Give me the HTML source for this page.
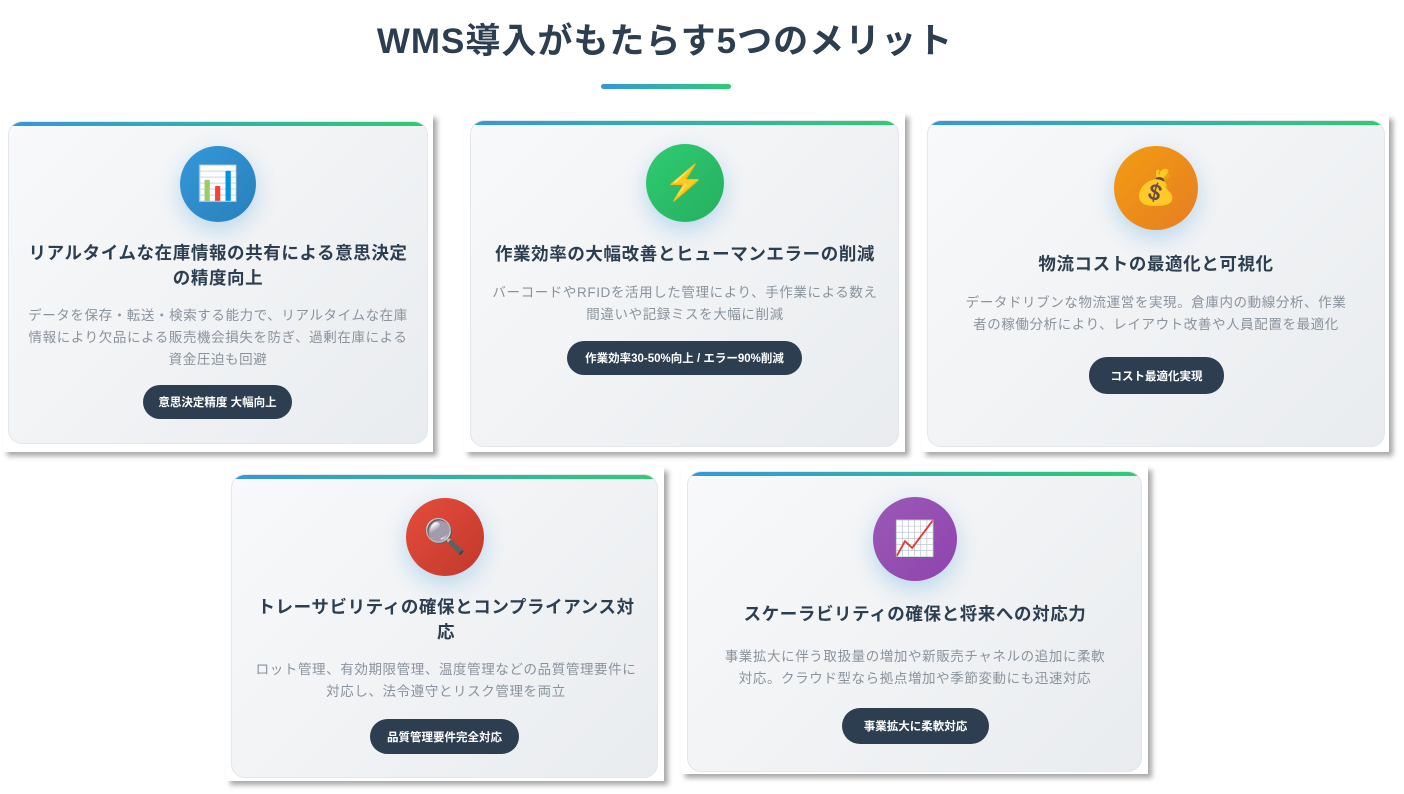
<!DOCTYPE html>
<html><head><meta charset="utf-8"><style>
*{margin:0;padding:0;box-sizing:border-box}
body{width:1404px;height:794px;background:#fff;position:relative;overflow:hidden;font-family:"Liberation Sans","Noto Sans CJK JP",sans-serif}
h1{position:absolute;left:0;width:1330px;top:13px;text-align:center;font-size:35px;font-weight:700;color:#2c3e50;letter-spacing:1px}
.bar{position:absolute;left:601px;top:84px;width:130px;height:5px;border-radius:3px;background:linear-gradient(90deg,#3498db,#2ecc71)}
.outer{position:absolute;background:#fff;box-shadow:4px 4px 5px rgba(0,0,0,.35)}
.inner{position:absolute;border-radius:14px;background:linear-gradient(135deg,#f8f9fa,#e9ecef);overflow:hidden;border:1px solid #e3e6ea}
.inner:before{content:"";position:absolute;left:0;right:0;top:0;height:4px;background:linear-gradient(90deg,#3498db,#2ecc71)}
.c{position:absolute;border-radius:50%;box-shadow:0 8px 22px rgba(52,152,219,.3);display:flex;align-items:center;justify-content:center;font-size:34px}
.t{position:absolute;text-align:center;font-size:17.5px;font-weight:700;color:#2c3e50;line-height:25px;letter-spacing:0.6px}
.d{position:absolute;text-align:center;font-size:13.5px;color:#8a939c;line-height:22px;letter-spacing:0.6px}
.b{position:absolute;background:#2c3e50;color:#fff;font-size:11.5px;font-weight:700;border-radius:18px;display:flex;align-items:center;justify-content:center}
</style></head><body>
<h1>WMS導入がもたらす5つのメリット</h1>
<div class="bar"></div>

<div class="outer" style="left:3px;top:114px;width:430px;height:338px"></div>
<div class="inner" style="left:8px;top:121px;width:420px;height:323px"></div>
<div class="c" style="left:180px;top:146px;width:76px;height:76px;background:linear-gradient(135deg,#3498db,#2980b9)">📊</div>
<div class="t" style="left:22px;top:241px;width:392px">リアルタイムな在庫情報の共有による意思決定の精度向上</div>
<div class="d" style="left:26px;top:305px;width:384px">データを保存・転送・検索する能力で、リアルタイムな在庫情報により欠品による販売機会損失を防ぎ、過剰在庫による資金圧迫も回避</div>
<div class="b" style="left:143px;top:385px;width:149px;height:34px">意思決定精度 大幅向上</div>

<div class="outer" style="left:464px;top:113px;width:441px;height:339px"></div>
<div class="inner" style="left:470px;top:120px;width:429px;height:327px"></div>
<div class="c" style="left:646px;top:144px;width:78px;height:78px;background:linear-gradient(135deg,#2ecc71,#27ae60)">⚡</div>
<div class="t" style="left:470px;top:242px;width:430px">作業効率の大幅改善とヒューマンエラーの削減</div>
<div class="d" style="left:488px;top:282px;width:394px">バーコードやRFIDを活用した管理により、手作業による数え間違いや記録ミスを大幅に削減</div>
<div class="b" style="left:567px;top:341px;width:235px;height:34px">作業効率30-50%向上 / エラー90%削減</div>

<div class="outer" style="left:922px;top:115px;width:467px;height:337px"></div>
<div class="inner" style="left:927px;top:120px;width:458px;height:327px"></div>
<div class="c" style="left:1114px;top:146px;width:84px;height:84px;background:linear-gradient(135deg,#f39c12,#e67e22)">💰</div>
<div class="t" style="left:940px;top:252px;width:432px">物流コストの最適化と可視化</div>
<div class="d" style="left:962px;top:292px;width:388px">データドリブンな物流運営を実現。倉庫内の動線分析、作業者の稼働分析により、レイアウト改善や人員配置を最適化</div>
<div class="b" style="left:1089px;top:357px;width:135px;height:37px">コスト最適化実現</div>

<div class="outer" style="left:226px;top:467px;width:438px;height:314px"></div>
<div class="inner" style="left:231px;top:474px;width:427px;height:304px"></div>
<div class="c" style="left:406px;top:498px;width:78px;height:78px;background:linear-gradient(135deg,#e74c3c,#c0392b)">🔍</div>
<div class="t" style="left:252px;top:595px;width:388px">トレーサビリティの確保とコンプライアンス対応</div>
<div class="d" style="left:250px;top:659px;width:392px">ロット管理、有効期限管理、温度管理などの品質管理要件に対応し、法令遵守とリスク管理を両立</div>
<div class="b" style="left:370px;top:719px;width:149px;height:35px">品質管理要件完全対応</div>

<div class="outer" style="left:681px;top:466px;width:467px;height:308px"></div>
<div class="inner" style="left:687px;top:471px;width:455px;height:301px"></div>
<div class="c" style="left:873px;top:497px;width:84px;height:84px;background:linear-gradient(135deg,#9b59b6,#8e44ad)">📈</div>
<div class="t" style="left:700px;top:602px;width:430px">スケーラビリティの確保と将来への対応力</div>
<div class="d" style="left:719px;top:646px;width:392px">事業拡大に伴う取扱量の増加や新販売チャネルの追加に柔軟対応。クラウド型なら拠点増加や季節変動にも迅速対応</div>
<div class="b" style="left:842px;top:708px;width:147px;height:36px">事業拡大に柔軟対応</div>
</body></html>
